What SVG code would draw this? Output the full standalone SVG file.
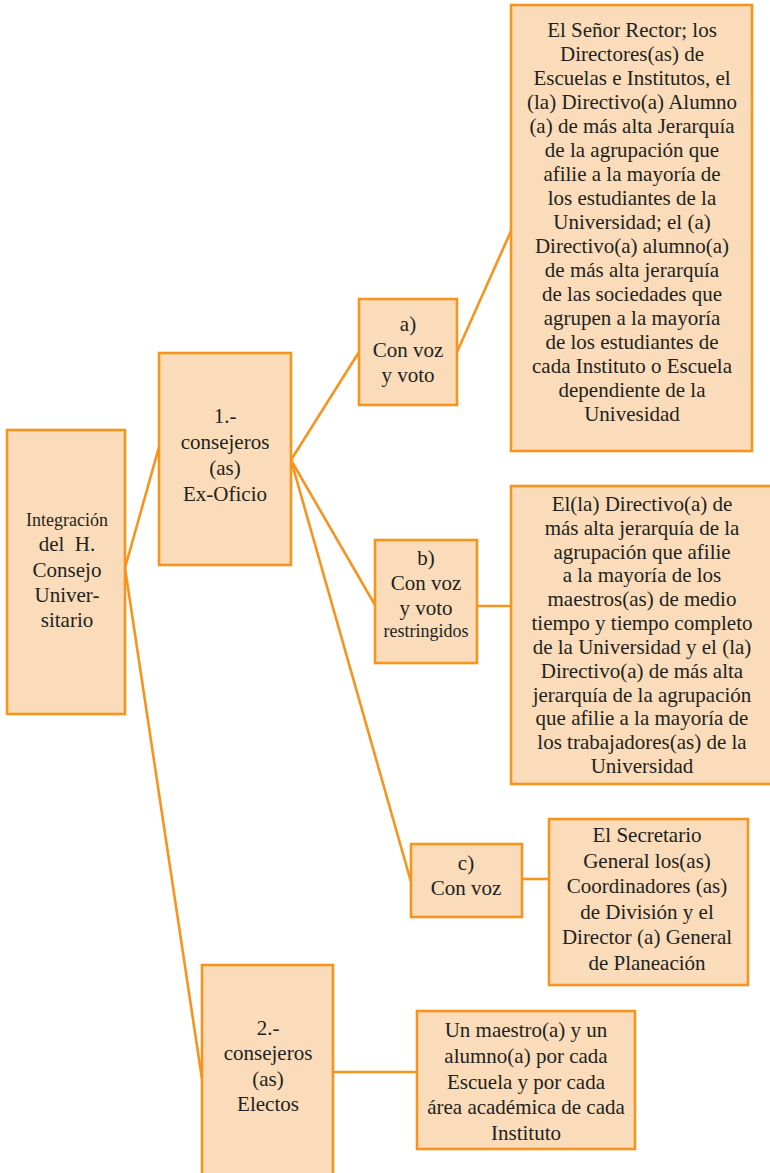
<svg xmlns="http://www.w3.org/2000/svg" width="770" height="1173" viewBox="0 0 770 1173">
<style>
.box{fill:#FADCBA;stroke:#F7941D;stroke-width:2.6}
.t{font-family:"Liberation Serif","Times New Roman",serif;font-size:21px;fill:#231F20;text-anchor:middle}
.s{font-size:18px}
.c{fill:none;stroke:#F7941D;stroke-width:2.6}
</style>
<rect width="770" height="1173" fill="#FFFFFF"/>
<g id="connectors">
<line class="c" x1="125" y1="568" x2="159" y2="447"/>
<line class="c" x1="125" y1="568" x2="202" y2="1079"/>
<line class="c" x1="291" y1="460" x2="359" y2="352"/>
<line class="c" x1="291" y1="460" x2="375" y2="605"/>
<line class="c" x1="291" y1="460" x2="411" y2="882"/>
<line class="c" x1="457" y1="352" x2="511" y2="231"/>
<line class="c" x1="477" y1="606" x2="511" y2="606"/>
<line class="c" x1="522" y1="879" x2="549" y2="879"/>
<line class="c" x1="333" y1="1072" x2="417" y2="1072"/>
</g>
<g id="root">
<rect class="box" x="7" y="430" width="118" height="284"/>
<text class="t" x="67" y="526"><tspan class="s">Integración</tspan><tspan x="67" y="551">del&#160; H.</tspan><tspan x="67" y="577">Consejo</tspan><tspan x="67" y="602">Univer-</tspan><tspan x="67" y="627">sitario</tspan></text>
</g>
<g id="exoficio">
<rect class="box" x="159" y="353" width="132" height="212"/>
<text class="t" x="225" y="423">1.-<tspan x="225" y="449">consejeros</tspan><tspan x="225" y="475">(as)</tspan><tspan x="225" y="501">Ex-Oficio</tspan></text>
</g>
<g id="a">
<rect class="box" x="359" y="299" width="98" height="106"/>
<text class="t" x="408" y="331">a)<tspan x="408" y="357">Con voz</tspan><tspan x="408" y="382">y voto</tspan></text>
</g>
<g id="a-desc">
<rect class="box" x="511" y="5" width="241" height="446"/>
<text class="t" x="632" y="37">El Señor Rector; los<tspan x="632" y="61">Directores(as) de</tspan><tspan x="632" y="85">Escuelas e Institutos, el</tspan><tspan x="632" y="109">(la) Directivo(a) Alumno</tspan><tspan x="632" y="133">(a) de más alta Jerarquía</tspan><tspan x="632" y="157">de la agrupación que</tspan><tspan x="632" y="181">afilie a la mayoría de</tspan><tspan x="632" y="205">los estudiantes de la</tspan><tspan x="632" y="229">Universidad; el (a)</tspan><tspan x="632" y="253">Directivo(a) alumno(a)</tspan><tspan x="632" y="277">de más alta jerarquía</tspan><tspan x="632" y="301">de las sociedades que</tspan><tspan x="632" y="325">agrupen a la mayoría</tspan><tspan x="632" y="349">de los estudiantes de</tspan><tspan x="632" y="373">cada Instituto o Escuela</tspan><tspan x="632" y="397">dependiente de la</tspan><tspan x="632" y="421">Univesidad</tspan></text>
</g>
<g id="b">
<rect class="box" x="375" y="540" width="102" height="123"/>
<text class="t" x="426" y="565">b)<tspan x="426" y="590">Con voz</tspan><tspan x="426" y="615">y voto</tspan><tspan x="426" y="637" class="s">restringidos</tspan></text>
</g>
<g id="b-desc">
<rect class="box" x="511" y="486" width="262" height="298"/>
<text class="t" x="642" y="511">El(la) Directivo(a) de<tspan x="642" y="535">más alta jerarquía de la</tspan><tspan x="642" y="559">agrupación que afilie</tspan><tspan x="642" y="582">a la mayoría de los</tspan><tspan x="642" y="606">maestros(as) de medio</tspan><tspan x="642" y="630">tiempo y tiempo completo</tspan><tspan x="642" y="654">de la Universidad y el (la)</tspan><tspan x="642" y="678">Directivo(a) de más alta</tspan><tspan x="642" y="702">jerarquía de la agrupación</tspan><tspan x="642" y="725">que afilie a la mayoría de</tspan><tspan x="642" y="749">los trabajadores(as) de la</tspan><tspan x="642" y="773">Universidad</tspan></text>
</g>
<g id="c">
<rect class="box" x="411" y="844" width="111" height="73"/>
<text class="t" x="466" y="870">c)<tspan x="466" y="895">Con voz</tspan></text>
</g>
<g id="c-desc">
<rect class="box" x="549" y="819" width="199" height="166"/>
<text class="t" x="647" y="842">El Secretario<tspan x="647" y="868">General los(as)</tspan><tspan x="647" y="893">Coordinadores (as)</tspan><tspan x="647" y="919">de División y el</tspan><tspan x="647" y="944">Director (a) General</tspan><tspan x="647" y="970">de Planeación</tspan></text>
</g>
<g id="electos">
<rect class="box" x="202" y="965" width="131" height="215"/>
<text class="t" x="268" y="1035">2.-<tspan x="268" y="1060">consejeros</tspan><tspan x="268" y="1086">(as)</tspan><tspan x="268" y="1111">Electos</tspan></text>
</g>
<g id="electos-desc">
<rect class="box" x="417" y="1011" width="218" height="138"/>
<text class="t" x="526" y="1037">Un maestro(a) y un<tspan x="526" y="1063">alumno(a) por cada</tspan><tspan x="526" y="1089">Escuela y por cada</tspan><tspan x="526" y="1114">área académica de cada</tspan><tspan x="526" y="1140">Instituto</tspan></text>
</g>
</svg>
